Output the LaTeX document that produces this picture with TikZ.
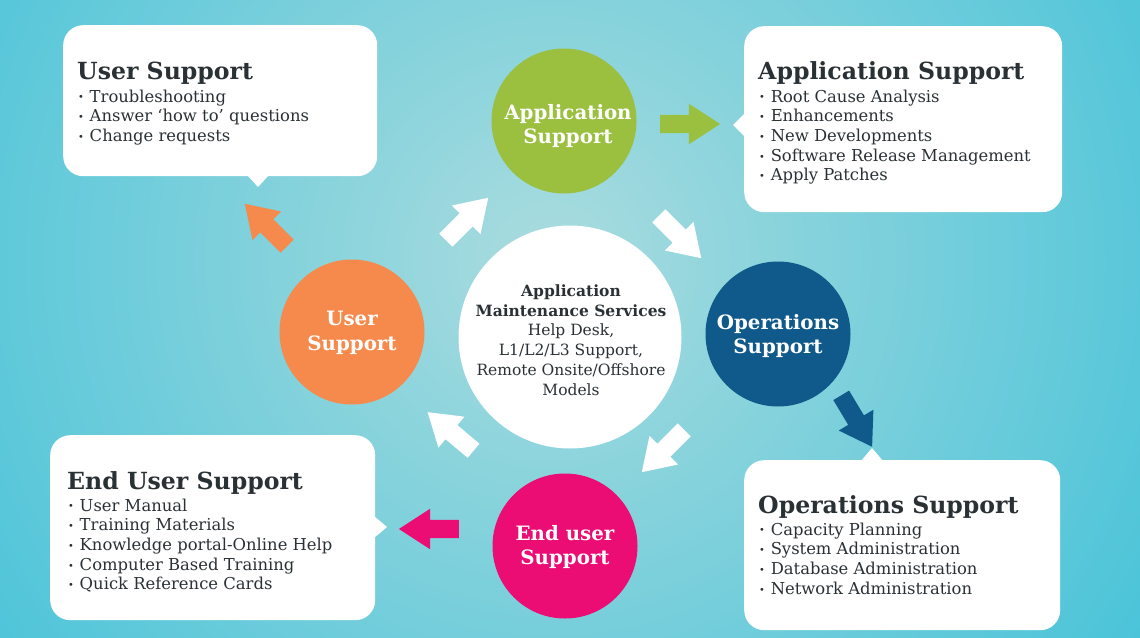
\documentclass[tikz,border=0pt]{standalone}
\usepackage{fontspec}
\usepackage{graphicx}
\setmainfont{DejaVu Serif}
\newfontfamily\headfont{DejaVu Serif}
\newfontfamily\bodyfont{DejaVu Serif}
\usetikzlibrary{shapes.arrows}

\definecolor{bgdark}{HTML}{48C3D9}
\definecolor{bgmid}{HTML}{88D3DC}
\definecolor{bglight}{HTML}{AADCDF}
\definecolor{ink}{HTML}{2A3135}
\definecolor{appgreen}{HTML}{9BBF3F}
\definecolor{opsblue}{HTML}{0F5A8A}
\definecolor{userorange}{HTML}{F58A4C}
\definecolor{endpink}{HTML}{EB0C74}

\pgfdeclareradialshading{bgshade}{\pgfpoint{0bp}{0bp}}{color(0bp)=(bglight); color(5bp)=(bgmid); color(15bp)=(bgdark); color(50bp)=(bgdark)}

\newcommand\bul{\raisebox{.12ex}{\scalebox{.6}{•}}\hspace{.35em}}

\tikzset{
  x=1pt, y=-1pt,
  every node/.style={inner sep=0pt},
  callout/.style={fill=white, rounded corners=20pt},
  heading/.style={anchor=base west, text=ink, font=\headfont\bfseries\fontsize{23.6}{28}\selectfont},
  item/.style={anchor=base west, text=ink, font=\bodyfont\fontsize{16.4}{20}\selectfont},
  phase/.style={circle, minimum size=145pt},
  phasetext/.style={text=white, align=center, font=\headfont\bfseries\fontsize{19.8}{24.5}\selectfont},
  blockarrow/.style={single arrow, minimum height=60pt, inner xsep=0pt, inner ysep=9pt,
    single arrow head extend=11pt, single arrow tip angle=66},
}

\begin{document}
\begin{tikzpicture}
\useasboundingbox (0,0) rectangle (1140,637);
\begin{scope}
  \clip (0,0) rectangle (1140,637);
  \fill[bgdark] (0,0) rectangle (1140,637);
  \shade[shading=bgshade] (550,260) circle (1200);
\end{scope}

% callout boxes
\node[callout, anchor=north west, minimum width=314pt, minimum height=151pt] (usbox) at (63,25) {};
\fill[white] (247,175) -- (258,187) -- (269,175) -- cycle;
\node[callout, anchor=north west, minimum width=318pt, minimum height=186pt] (apbox) at (744,26) {};
\fill[white] (745,113) -- (733,125) -- (745,137) -- cycle;
\node[callout, anchor=north west, minimum width=325pt, minimum height=185pt] (eubox) at (50,435) {};
\fill[white] (374,516) -- (387,527) -- (374,538) -- cycle;
\node[callout, anchor=north west, minimum width=316pt, minimum height=170pt] (opbox) at (744,460) {};
\fill[white] (861,461) -- (872,448) -- (883,461) -- cycle;

% box texts
\node[heading] (ush) at (77,79) {User Support};
\foreach \t [count=\i] in {Troubleshooting, Answer ‘how to’ questions, Change requests}
  \node[item] (us\i) at (78,{102+19.7*(\i-1)}) {\bul\t};

\node[heading] (aph) at (758,79) {Application Support};
\foreach \t [count=\i] in {Root Cause Analysis, Enhancements, New Developments, Software Release Management, Apply Patches}
  \node[item] (ap\i) at (759,{102+19.7*(\i-1)}) {\bul\t};

\node[heading] (euh) at (67,489) {End User Support};
\foreach \t [count=\i] in {User Manual, Training Materials, Knowledge portal-Online Help, Computer Based Training, Quick Reference Cards}
  \node[item] (eu\i) at (68,{511+19.7*(\i-1)}) {\bul\t};

\node[heading] (oph) at (758,513) {Operations Support};
\foreach \t [count=\i] in {Capacity Planning, System Administration, Database Administration, Network Administration}
  \node[item] (op\i) at (759,{535+19.7*(\i-1)}) {\bul\t};

% hub
\node[circle, fill=white, minimum size=223pt] (hub) at (570,337) {};
\node[align=center, text=ink, font=\bodyfont\fontsize{15.5}{19.7}\selectfont] (hubtext) at (571,340)
  {\textbf{Application}\\\textbf{Maintenance Services}\\Help Desk,\\L1/L2/L3 Support,\\Remote Onsite/Offshore\\Models};

% phase circles
\node[phase, fill=appgreen] (app) at (564,121) {};
\node[phasetext] (appt) at (568,126) {Application\\Support};
\node[phase, fill=opsblue] (ops) at (778,334) {};
\node[phasetext] (opst) at (778,336) {Operations\\Support};
\node[phase, fill=userorange] (usr) at (352,332) {};
\node[phasetext] (usrt) at (352,333) {User\\Support};
\node[phase, fill=endpink] (end) at (565,546) {};
\node[phasetext] (endt) at (565,547) {End user\\Support};

% block arrows
\node[blockarrow, fill=white, rotate=45] (a1) at (462,224) {};
\node[blockarrow, fill=white, rotate=-45] (a2) at (675,232) {};
\node[blockarrow, fill=white, rotate=-135] (a3) at (668,446) {};
\node[blockarrow, fill=white, rotate=140] (a4) at (456,436) {};
\node[blockarrow, fill=appgreen, rotate=0] (a5) at (683,124) {};
\node[blockarrow, fill=opsblue, rotate=-59] (a6) at (853,415) {};
\node[blockarrow, fill=endpink, rotate=180] (a7) at (436,529) {};
\node[blockarrow, fill=userorange, rotate=135] (a8) at (271,230) {};
\end{tikzpicture}
\end{document}
